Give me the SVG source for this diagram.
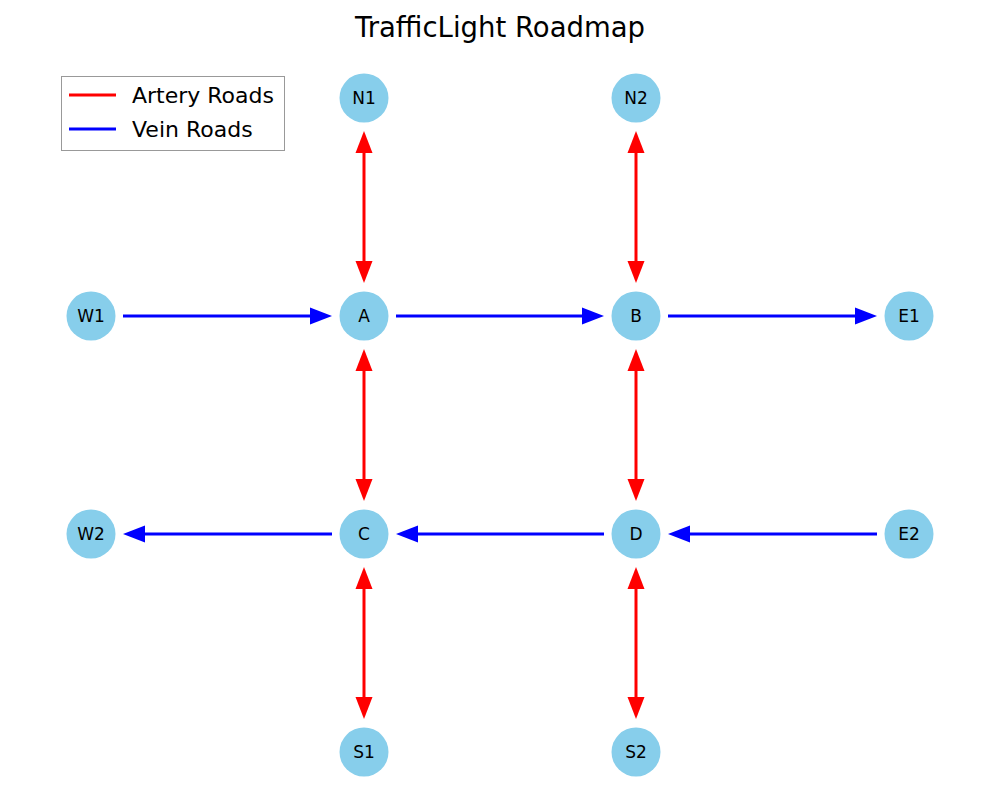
<svg xmlns="http://www.w3.org/2000/svg" width="1000" height="800" viewBox="0 0 1000 800">
<style>
.node circle{fill:#87CEEB;}
.node text{font-family:"DejaVu Sans",sans-serif;font-size:17px;fill:#000;text-anchor:middle;dominant-baseline:central;}
.artery{stroke:#FF0000;stroke-width:3;fill:none;marker-start:url(#ah-red);marker-end:url(#ah-red);}
.vein{stroke:#0000FF;stroke-width:3;fill:none;marker-end:url(#ah-blue);}
.title{font-family:"DejaVu Sans",sans-serif;font-size:27.5px;text-anchor:middle;}
.leg{font-family:"DejaVu Sans",sans-serif;font-size:22px;dominant-baseline:central;}
</style>
<defs>
<marker id="ah-red" markerUnits="userSpaceOnUse" markerWidth="24" markerHeight="20" viewBox="0 -10 24 20" refX="0" refY="0" orient="auto-start-reverse" overflow="visible">
<path d="M0,-8.5 L22,0 L0,8.5 z" fill="#FF0000"/>
</marker>
<marker id="ah-blue" markerUnits="userSpaceOnUse" markerWidth="24" markerHeight="20" viewBox="0 -10 24 20" refX="0" refY="0" orient="auto" overflow="visible">
<path d="M0,-8.5 L22,0 L0,8.5 z" fill="#0000FF"/>
</marker>
</defs>
<rect width="1000" height="800" fill="#fff"/>
<text class="title" x="500" y="37">TrafficLight Roadmap</text>
<g id="connectors">
<line class="artery" x1="364" y1="153" x2="364" y2="261"/>
<line class="artery" x1="364" y1="371" x2="364" y2="479"/>
<line class="artery" x1="364" y1="589" x2="364" y2="697"/>
<line class="artery" x1="636" y1="153" x2="636" y2="261"/>
<line class="artery" x1="636" y1="371" x2="636" y2="479"/>
<line class="artery" x1="636" y1="589" x2="636" y2="697"/>
<line class="vein" x1="123" y1="316" x2="310" y2="316"/>
<line class="vein" x1="396" y1="316" x2="582" y2="316"/>
<line class="vein" x1="668" y1="316" x2="855" y2="316"/>
<line class="vein" x1="877" y1="534" x2="690" y2="534"/>
<line class="vein" x1="604" y1="534" x2="418" y2="534"/>
<line class="vein" x1="332" y1="534" x2="145" y2="534"/>
</g>
<g id="N1" class="node"><circle cx="364" cy="98" r="24.5"/><text x="364" y="98">N1</text></g>
<g id="N2" class="node"><circle cx="636" cy="98" r="24.5"/><text x="636" y="98">N2</text></g>
<g id="W1" class="node"><circle cx="91" cy="316" r="24.5"/><text x="91" y="316">W1</text></g>
<g id="A" class="node"><circle cx="364" cy="316" r="24.5"/><text x="364" y="316">A</text></g>
<g id="B" class="node"><circle cx="636" cy="316" r="24.5"/><text x="636" y="316">B</text></g>
<g id="E1" class="node"><circle cx="909" cy="316" r="24.5"/><text x="909" y="316">E1</text></g>
<g id="W2" class="node"><circle cx="91" cy="534" r="24.5"/><text x="91" y="534">W2</text></g>
<g id="C" class="node"><circle cx="364" cy="534" r="24.5"/><text x="364" y="534">C</text></g>
<g id="D" class="node"><circle cx="636" cy="534" r="24.5"/><text x="636" y="534">D</text></g>
<g id="E2" class="node"><circle cx="909" cy="534" r="24.5"/><text x="909" y="534">E2</text></g>
<g id="S1" class="node"><circle cx="364" cy="752" r="24.5"/><text x="364" y="752">S1</text></g>
<g id="S2" class="node"><circle cx="636" cy="752" r="24.5"/><text x="636" y="752">S2</text></g>
<g id="legend">
<rect x="61.5" y="76.5" width="223" height="74" fill="#fff" stroke="#999" stroke-width="1"/>
<line x1="69" y1="95" x2="116" y2="95" stroke="#FF0000" stroke-width="3"/>
<line x1="69" y1="129" x2="116" y2="129" stroke="#0000FF" stroke-width="3"/>
<text class="leg" x="132" y="95">Artery Roads</text>
<text class="leg" x="132" y="129">Vein Roads</text>
</g>
</svg>
